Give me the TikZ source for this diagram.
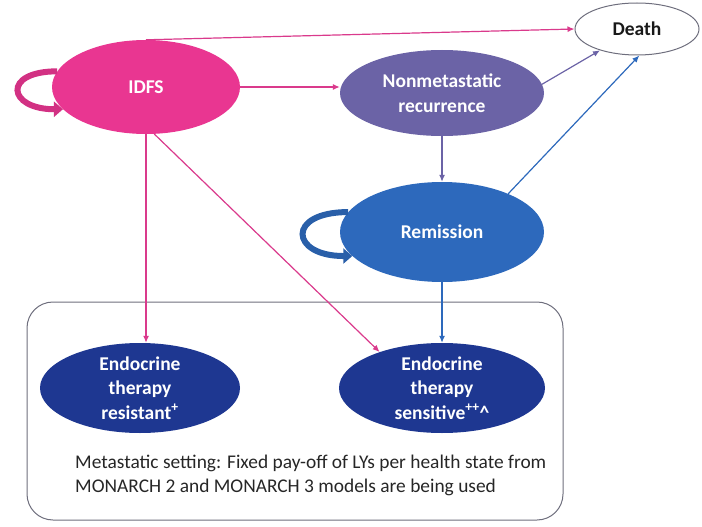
\documentclass[tikz,border=0pt]{standalone}
\usepackage{fontspec}
\setmainfont{Carlito}
\usetikzlibrary{arrows.meta,shapes.geometric}

\definecolor{idfspink}{RGB}{233,54,145}
\definecolor{linkpink}{RGB}{218,58,140}
\definecolor{recpurple}{RGB}{107,99,166}
\definecolor{remblue}{RGB}{45,105,188}
\definecolor{endonavy}{RGB}{30,55,145}
\definecolor{boxgrey}{RGB}{110,110,125}

\tikzset{
  state/.style={ellipse, inner sep=0pt, text=white, align=center,
    font=\bfseries\fontsize{19.5}{24.5}\selectfont},
  link/.style={line width=1.2pt, -{Latex[length=7pt,width=6pt]}},
  selfloop/.style={line width=6pt, -{Triangle[length=9pt,width=15pt]}},
}

\begin{document}
\begin{tikzpicture}[x=1pt,y=-1pt]
\useasboundingbox (0,0) rectangle (702,527);

% metastatic setting
\node[draw=boxgrey, line width=1pt, rounded corners=26pt, inner sep=0pt,
  minimum width=536pt, minimum height=218pt] (meta) at (295,411) {};

% health states
\node[state, fill=idfspink, minimum width=188pt, minimum height=94pt] (IDFS) at (146,87) {IDFS};
\node[state, fill=recpurple, minimum width=204pt, minimum height=86pt] (NR) at (442,93) {Nonmetastatic\\recurrence};
\node[state, draw=boxgrey, line width=1pt, text=black!90, minimum width=124pt, minimum height=52pt] (death) at (637,29) {Death};
\node[state, fill=remblue, minimum width=204pt, minimum height=100pt] (rem) at (442,232) {Remission};
\node[state, fill=endonavy, inner ysep=-4pt, minimum width=200pt, minimum height=90pt] (ETR) at (140,388) {Endocrine\\therapy\\resistant\textsuperscript{+}};
\node[state, fill=endonavy, inner ysep=-4pt, minimum width=206pt, minimum height=90pt] (ETS) at (442,388) {Endocrine\\therapy\\sensitive\textsuperscript{++}\textasciicircum};

\node[anchor=west, align=left, inner sep=0pt, text=black!85, font=\fontsize{19.4}{24}\selectfont] (note) at (75,475)
  {Metastatic setting: Fixed pay-off of LYs per health state from\\MONARCH 2 and MONARCH 3 models are being used};

% transitions
\draw[selfloop, idfspink!90!black] (IDFS.170) to[out=180, in=180, looseness=3.7] (IDFS.195);
\draw[selfloop, remblue!90!black] (rem.168) to[out=180, in=180, looseness=3.6] (rem.195);

\draw[link, linkpink] (IDFS.north) -- (death.west);
\draw[link, linkpink] (IDFS.east) -- (IDFS.east -| NR.west);
\draw[link, linkpink] (IDFS.south) -- (IDFS.south |- ETR.north);
\draw[link, linkpink] (IDFS.-80) -- (ETS.150);
\draw[link, recpurple] (NR.5) -- (death.210);
\draw[link, recpurple] (NR.south) -- (rem.north);
\draw[link, remblue] (rem.30) -- (death.275);
\draw[link, remblue] (rem.south) -- (ETS.north);
\end{tikzpicture}
\end{document}
